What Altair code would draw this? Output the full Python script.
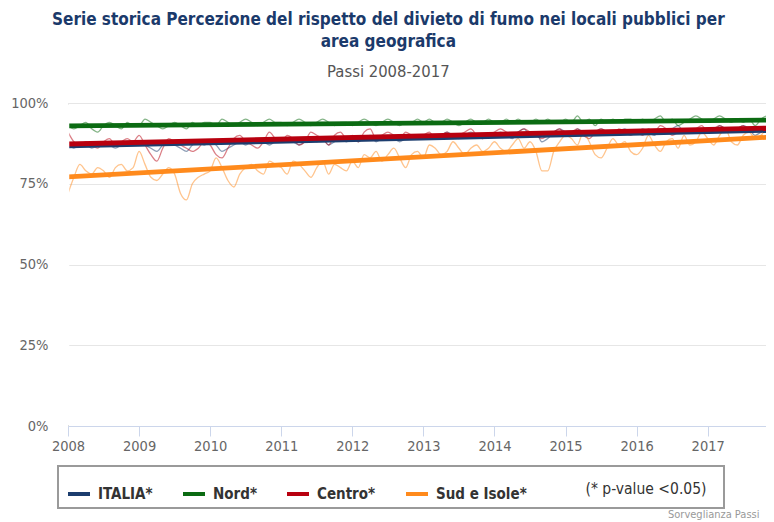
import altair as alt
import pandas as pd

FONT = "DejaVu Sans Condensed, Liberation Sans Narrow, Roboto, sans-serif"

title_lines = ["Serie storica Percezione del rispetto del divieto di fumo nei locali pubblici per",
               "area geografica"]
subtitle = "Passi 2008-2017"
note_text = "(* p-value <0.05)"
credit_text = "Sorveglianza Passi"

years = list(range(2008, 2018))
y_ticks = [0, 25, 50, 75, 100]
series = ["ITALIA*", "Nord*", "Centro*", "Sud e Isole*"]
colors = ["#1c3d6e", "#0b6b12", "#b8000f", "#ff8a1c"]

# monthly values Jan 2008 - Dec 2017 (%)
italia = [88, 86, 87, 87, 86, 87, 88, 87, 86, 87, 88, 87,
          88, 87, 86, 85, 87, 88, 87, 86, 85, 87, 88, 87,
          88, 87, 85, 86, 87, 88, 87, 88, 89, 88, 87, 88,
          88, 89, 88, 87, 88, 89, 88, 89, 87, 88, 89, 88,
          89, 88, 89, 90, 88, 89, 90, 89, 88, 89, 90, 89,
          89, 90, 89, 90, 91, 90, 89, 90, 91, 90, 89, 90,
          90, 91, 90, 89, 91, 92, 90, 91, 88, 89, 91, 92,
          91, 90, 92, 91, 90, 91, 92, 91, 90, 91, 92, 91,
          91, 92, 91, 90, 92, 91, 92, 93, 91, 92, 91, 92,
          92, 91, 93, 92, 91, 92, 93, 92, 90, 91, 92, 93]
nord = [93, 92, 93, 94, 92, 91, 93, 94, 93, 92, 94, 93,
        93, 95, 94, 93, 92, 93, 94, 93, 92, 94, 93, 94,
        94, 93, 95, 94, 93, 94, 95, 94, 93, 94, 95, 94,
        94, 93, 94, 95, 94, 93, 94, 95, 94, 93, 94, 94,
        93, 94, 95, 94, 93, 94, 95, 94, 93, 94, 94, 95,
        94, 95, 94, 94, 95, 94, 93, 94, 95, 94, 94, 95,
        94, 94, 95, 94, 95, 94, 94, 95, 94, 95, 94, 94,
        95, 94, 96, 94, 95, 93, 95, 94, 95, 94, 95, 95,
        94, 95, 94, 95, 96, 94, 95, 93, 94, 95, 96, 95,
        94, 95, 96, 95, 94, 95, 94, 95, 93, 95, 96, 95]
centro = [91, 88, 87, 88, 87, 86, 88, 89, 87, 88, 89, 88,
          90, 87, 84, 82, 86, 89, 88, 87, 86, 85, 86, 88,
          87, 84, 83, 86, 89, 90, 88, 87, 86, 88, 91, 89,
          88, 90, 89, 87, 88, 91, 90, 89, 87, 90, 91, 89,
          90, 88, 91, 92, 89, 90, 91, 90, 89, 91, 90, 89,
          90, 91, 89, 90, 91, 89, 90, 91, 92, 90, 89, 90,
          91, 92, 91, 90, 91, 92, 91, 90, 89, 90, 91, 92,
          90, 91, 92, 90, 89, 91, 92, 91, 90, 92, 91, 90,
          91, 90, 92, 91, 93, 92, 90, 91, 92, 91, 92, 93,
          91, 92, 93, 92, 91, 92, 93, 91, 92, 91, 93, 94]
sud = [72, 77, 81, 79, 78, 80, 79, 77, 80, 81, 79, 80,
       85, 81, 77, 76, 78, 80, 78, 72, 70, 75, 77, 78,
       79, 83, 80, 76, 74, 78, 80, 81, 79, 78, 82, 81,
       80, 78, 82, 81, 79, 77, 80, 82, 78, 81, 80, 79,
       82, 80, 84, 83, 85, 82, 84, 86, 83, 80, 84, 85,
       83, 87, 86, 84, 85, 88, 86, 84, 86, 87, 85, 86,
       88, 86, 85, 87, 89, 86, 88, 85, 79, 79, 85, 88,
       90, 89, 87, 91, 88, 84, 83, 86, 89, 87, 88, 85,
       84, 86, 90, 87, 85, 88, 89, 86, 90, 87, 88, 91,
       89, 87, 90, 92, 88, 87, 90, 91, 89, 90, 92, 88]

# linear trend endpoints (%)
trend_x = [2008.0, 2017.92]
trend_start = [86.7, 92.9, 87.3, 77.1]
trend_end = [91.6, 94.7, 92.3, 89.5]

rows = []
for name, vals in zip(series, [italia, nord, centro, sud]):
    for i, v in enumerate(vals):
        rows.append({"s": name, "t": 2008 + i / 12.0, "v": v, "kind": "mensile", "g": "a_" + name})
for name, a, b in zip(series, trend_start, trend_end):
    rows.append({"s": name, "t": trend_x[0], "v": a, "kind": "trend", "g": "b_" + name})
    rows.append({"s": name, "t": trend_x[1], "v": b, "kind": "trend", "g": "b_" + name})
data = pd.DataFrame(rows)

xs = alt.Scale(domain=[2008, 2017.82], nice=False, zero=False)
ys = alt.Scale(domain=[0, 100], nice=False)
cs = alt.Scale(domain=series, range=colors)

xaxis = alt.Axis(values=years, format="d", title=None, labelFontSize=14.5, labelColor="#666666",
                 labelFont=FONT, domainColor="#ccd6eb", tickColor="#ccd6eb", tickSize=10,
                 grid=False, labelPadding=3, labelFlush=False)
yaxis = alt.Axis(values=y_ticks, labelExpr="datum.value + '%'", title=None, domain=False,
                 ticks=False, gridColor="#e6e6e6", labelFontSize=14.5, labelColor="#666666",
                 labelFont=FONT, labelPadding=20)
legend = alt.Legend(title=None, orient="none", legendX=-2, legendY=378, direction="horizontal",
                    symbolType="stroke", symbolStrokeWidth=4, symbolSize=484, symbolOpacity=1,
                    labelFontSize=15, labelFontWeight="bold", labelColor="#333333", labelFont=FONT,
                    columnPadding=22, padding=0, labelOffset=6)

one = pd.DataFrame({"k": [0]})

# white rule hiding the stray vertical line on the plot's left edge (drawn under the data lines)
mask = alt.Chart(one).mark_rule(color="white", strokeWidth=2.5).encode(
    x=alt.value(0), y=alt.value(1.5), y2=alt.value(322))

lines = alt.Chart(data).mark_line(interpolate="monotone", clip=True).encode(
    x=alt.X("t:Q", scale=xs, axis=xaxis),
    y=alt.Y("v:Q", scale=ys, axis=yaxis),
    color=alt.Color("s:N", scale=cs, legend=legend, sort=series),
    detail="g:N",
    strokeWidth=alt.StrokeWidth("kind:N", scale=alt.Scale(domain=["mensile", "trend"], range=[1.3, 4.8]),
                                legend=None),
    opacity=alt.Opacity("kind:N", scale=alt.Scale(domain=["mensile", "trend"], range=[0.5, 1.0]),
                        legend=None),
    order=alt.Order("g:N"),
)

box = alt.Chart(one).mark_rect(fillOpacity=0, stroke="#9a9a9a", strokeWidth=2).encode(
    x=alt.value(-10), x2=alt.value(656), y=alt.value(363), y2=alt.value(405))
note = alt.Chart(one).mark_text(fontSize=15.5, color="#333333", font=FONT, align="center",
                                baseline="middle").encode(
    x=alt.value(578), y=alt.value(386), text=alt.value(note_text))
credit = alt.Chart(one).mark_text(fontSize=11, color="#999999", font=FONT, align="left",
                                  baseline="middle").encode(
    x=alt.value(600), y=alt.value(412), text=alt.value(credit_text))

chart = alt.layer(lines, mask, box, note, credit).properties(
    width=698, height=323,
    autosize=alt.AutoSizeParams(type="none"),
    padding={"left": 60, "top": 95, "right": 0, "bottom": 94},
    title=alt.TitleParams(text=title_lines, subtitle=subtitle, font=FONT, fontSize=17,
                          fontWeight="bold", color="#1b3a6b", subtitleFont=FONT,
                          subtitleFontSize=16.5, subtitleColor="#555555", subtitlePadding=13,
                          anchor="middle", frame="bounds", offset=14, lineHeight=22),
).configure_view(strokeWidth=0, stroke="transparent").configure_axisY(
    domain=False, ticks=False
).configure(background="white")

chart.save("out.html", embed_options={"renderer": "svg", "actions": False})
